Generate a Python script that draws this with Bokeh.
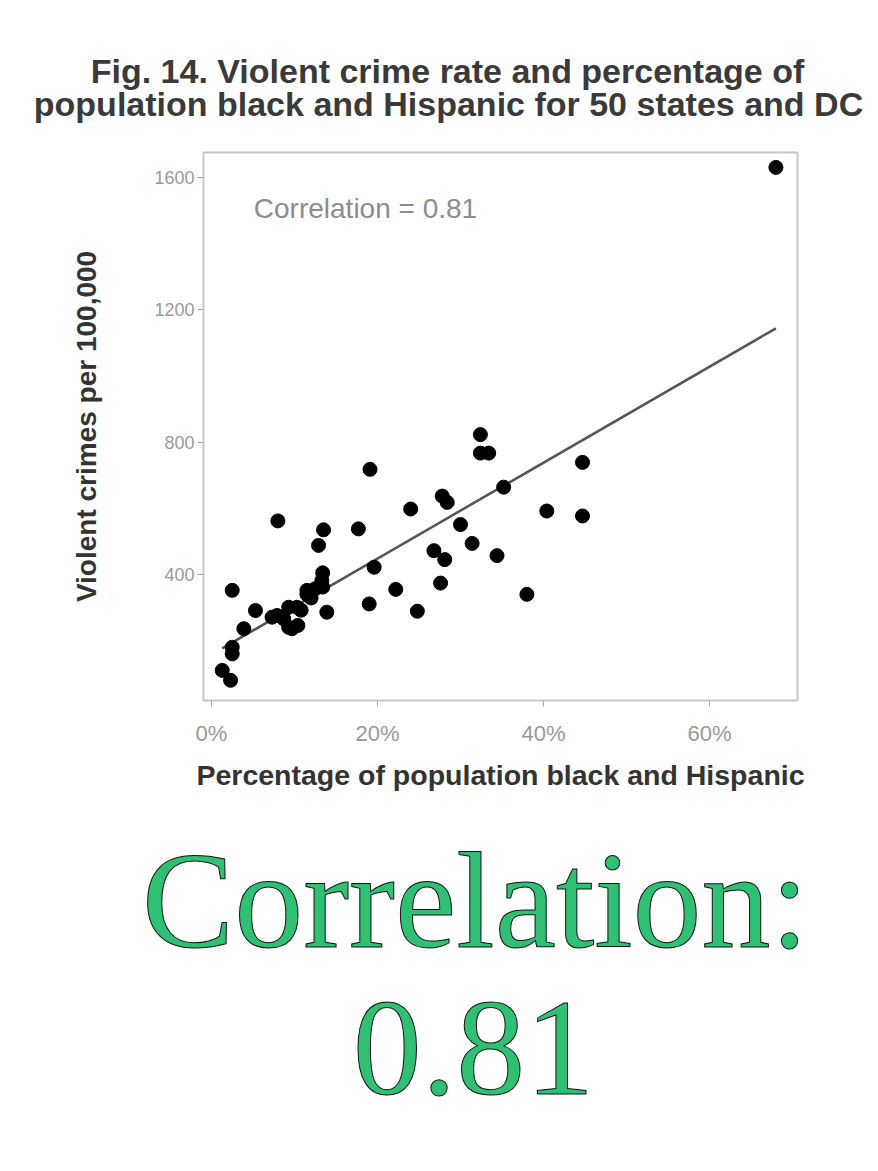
import numpy as np
from bokeh.plotting import figure
from bokeh.layouts import column
from bokeh.models import Range1d, FixedTicker, PrintfTickFormatter, Plot
from bokeh.core.properties import value
from bokeh.embed import file_html
from bokeh.resources import INLINE

# ---------------- data ----------------
pct_black_hispanic = [68.0, 32.4, 32.4, 33.4, 44.7, 19.1, 35.2, 27.8, 28.4, 24.0,
                      40.4, 44.7, 8.0, 13.5, 12.9, 17.7, 30.0, 31.4, 26.8, 28.1,
                      34.4, 19.6, 13.4, 13.3, 13.4, 11.5, 12.5, 22.2, 27.6, 2.5,
                      38.0, 19.0, 24.8, 13.9, 5.3, 7.3, 8.7, 10.3, 10.8, 9.3,
                      9.7, 9.3, 3.9, 2.5, 2.5, 1.3, 2.3, 7.9, 10.4, 11.5, 12.0]
violent_crime_rate = [1631, 823, 767, 767, 739, 718, 664, 637, 618, 598,
                      592, 577, 562, 535, 488, 538, 551, 494, 472, 445,
                      457, 422, 405, 382, 362, 352, 357, 355, 374, 352,
                      340, 311, 289, 286, 291, 271, 266, 301, 292, 301,
                      236, 240, 236, 180, 160, 110, 80, 276, 246, 340, 329]
x_ticks = [0, 20, 40, 60]
y_ticks = [400, 800, 1200, 1600]
title_lines = ["Fig. 14. Violent crime rate and percentage of",
               "population black and Hispanic for 50 states and DC"]
x_title = "Percentage of population black and Hispanic"
y_title = "Violent crimes per 100,000"
corr_note = "Correlation = 0.81"
big_lines = ["Correlation:", "0.81"]

W = 878
SANS = value("Liberation Sans")
HAS_FRAME_ALIGN = "frame_align" in Plot.properties()


def blank(h):
    f = figure(width=W, height=h, x_range=Range1d(0, W), y_range=Range1d(0, h),
               output_backend="svg", toolbar_location=None, min_border=0)
    f.axis.visible = False
    f.grid.visible = False
    f.outline_line_color = None
    f.background_fill_color = "white"
    f.border_fill_color = "white"
    if HAS_FRAME_ALIGN:
        f.frame_align = False
    return f


# ---------------- title ----------------
top = blank(140)
top.text(x=[447, 448], y=[70, 37], text=title_lines, text_align="center",
         text_baseline="middle", text_font=SANS, text_font_style="bold",
         text_font_size="34px", text_color="#3a3a3a")

# ---------------- scatter ----------------
p = figure(width=W, height=660, x_range=Range1d(-0.96, 70.6), y_range=Range1d(19, 1676),
           output_backend="svg", toolbar_location=None,
           min_border_left=203, min_border_right=81, min_border_top=12, min_border_bottom=100)
p.grid.visible = False
p.outline_line_color = "#c8c8c8"
p.outline_line_width = 2
p.background_fill_color = "white"
p.border_fill_color = "white"
if HAS_FRAME_ALIGN:
    p.frame_align = False

x = np.array(pct_black_hispanic)
y = np.array(violent_crime_rate)
slope, intercept = np.polyfit(x, y, 1)
xl = np.array([x.min(), x.max()])
p.line(xl, slope * xl + intercept, line_color="#555555", line_width=2.5)
p.scatter(x, y, size=14, fill_color="black", line_color="black")

p.text(x=[5.1], y=[1506], text=[corr_note], text_baseline="middle",
       text_font=SANS, text_font_size="28px", text_color="#8c8c8c")

p.xaxis.ticker = FixedTicker(ticks=x_ticks)
p.xaxis.formatter = PrintfTickFormatter(format="%d%%")
p.yaxis.ticker = FixedTicker(ticks=y_ticks)
for ax in (p.xaxis, p.yaxis):
    ax.axis_line_color = None
    ax.major_tick_line_color = "#aaaaaa"
    ax.major_tick_out = 6
    ax.major_tick_in = 0
    ax.minor_tick_line_color = None
    ax.major_label_text_font = "Liberation Sans"
    ax.major_label_text_color = "#999999"
    ax.axis_label_text_font = "Liberation Sans"
    ax.axis_label_text_font_style = "bold"
    ax.axis_label_text_color = "#333333"
p.xaxis.major_label_text_font_size = "22px"
p.yaxis.major_label_text_font_size = "18px"
p.xaxis.axis_label = x_title
p.yaxis.axis_label = y_title
p.xaxis.axis_label_text_font_size = "28.5px"
p.yaxis.axis_label_text_font_size = "28px"
p.xaxis.major_label_standoff = 14
p.yaxis.major_label_standoff = 3
p.xaxis.axis_label_standoff = 10
p.yaxis.axis_label_standoff = 49

# ---------------- big caption ----------------
bot = blank(371)
bot.text(x=[475, 473], y=[271, 123], text=big_lines, text_align="center",
         text_baseline="alphabetic", text_font=value("Liberation Serif"),
         text_font_size="138px", text_color="#30c074",
         text_outline_color="#111111")

layout = column(top, p, bot, spacing=0)
open("out.html", "w").write(file_html(layout, INLINE))
